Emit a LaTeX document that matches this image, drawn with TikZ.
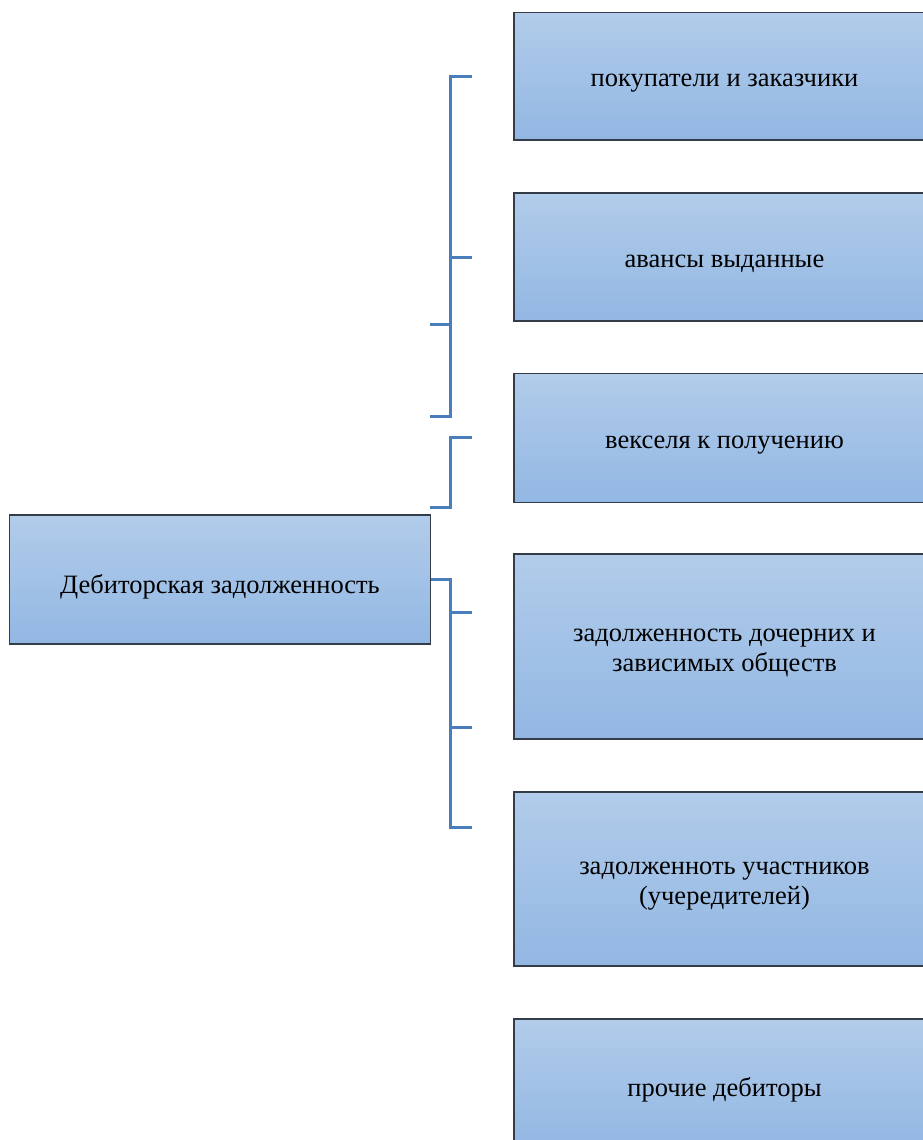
\documentclass[tikz,border=0pt]{standalone}
\usepackage{fontspec}
\setmainfont{Liberation Serif}
\usepackage{tikz}
\usetikzlibrary{calc}
\definecolor{boxtop}{RGB}{178,204,234}
\definecolor{boxbot}{RGB}{146,183,227}
\definecolor{boxline}{RGB}{52,60,72}
\definecolor{linkblue}{RGB}{74,126,187}
\tikzset{
  item/.style={draw=boxline, line width=1.4pt, top color=boxtop, bottom color=boxbot,
    minimum width=421pt, minimum height=#1, inner sep=0pt},
  item/.default=128pt,
  itemtext/.style={yshift=-7pt, align=center, inner sep=0pt,
    font=\fontsize{26.5}{30}\selectfont},
  link/.style={draw=linkblue, line width=3pt}
}
\begin{document}
\begin{tikzpicture}[x=1pt, y=-1pt]
                    \useasboundingbox (0,0) rectangle (923,1140);
                    \clip (0,0) rectangle (923,1140);
                    \node[item=129pt, label={[itemtext]center:Дебиторская задолженность}] (debt) at (220,579.5) {};
                    \node[item=127pt, label={[itemtext]center:покупатели и заказчики}] (buyers) at (724.5,76.3) {};
                    \node[item=128pt, label={[itemtext]center:авансы выданные}] (adv) at (724.5,257) {};
                    \node[item=129pt, label={[itemtext]center:векселя к получению}] (bills) at (724.5,437.7) {};
                    \node[item=185pt, label={[itemtext]center:задолженность дочерних и\\зависимых обществ}] (subs) at (724.5,646.5) {};
                    \node[item=174pt, label={[itemtext]center:задолженноть участников\\(учередителей)}] (members) at (724.5,879) {};
                    \node[item=128pt, label={[itemtext]center:прочие дебиторы}] (other) at (724.5,1083) {};

                    % free ends of the brackets
                    \coordinate (a1) at (472,76);
                    \coordinate (a2) at (472,257);
                    \coordinate (a3) at (430,324);
                    \coordinate (a4) at (430,416);
                    \coordinate (b1) at (472,437);
                    \coordinate (b2) at (430,507);
                    \coordinate (c1) at (472,612);
                    \coordinate (c2) at (472,727);
                    \coordinate (c3) at (472,827);

                    \draw[link] (a1) -- (450,76) -- (450,416) -- (a4);
                    \draw[link] (a2) -- (450,257);
                    \draw[link] (a3) -- (450,324);
                    \draw[link] (b1) -- (450,437) -- (450,507) -- (b2);
                    \draw[link] (debt.east) -- (450,579.5) -- (450,827) -- (c3);
                    \draw[link] (c1) -- (450,612);
                    \draw[link] (c2) -- (450,727);
                \end{tikzpicture}
\end{document}
